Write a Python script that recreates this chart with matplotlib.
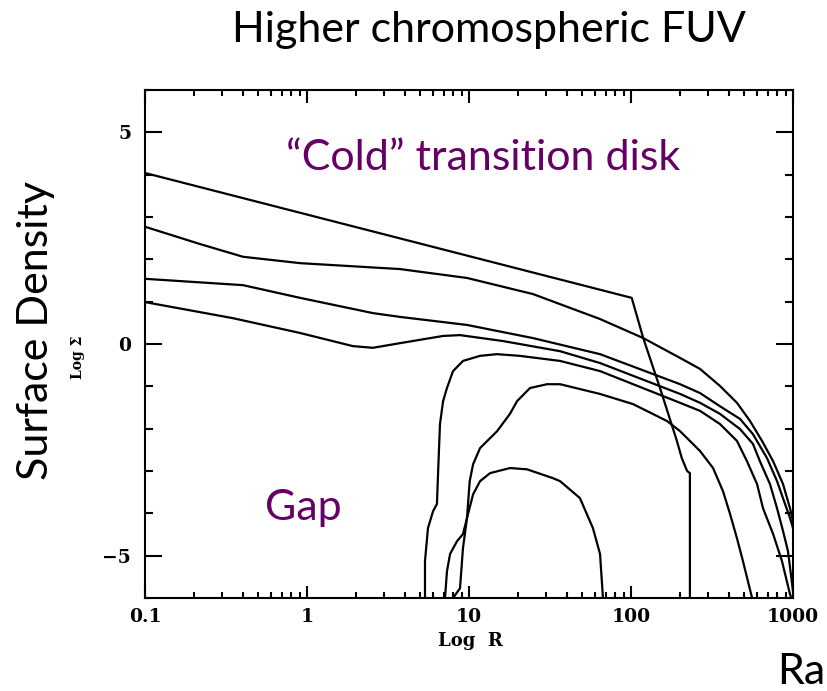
import numpy as np
import matplotlib
matplotlib.use("Agg")
import matplotlib.pyplot as plt
from matplotlib.ticker import FixedLocator, NullFormatter

# surface density profiles (R in AU, log Sigma)
r1 = [0.1, 101, 119, 151, 192, 206, 222, 231, 231]
s1 = [4.04, 1.09, 0.14, -1.04, -2.29, -2.70, -3.00, -3.05, -6.5]

r2 = [0.1, 0.219, 0.403, 0.906, 3.75, 9.72, 24.8, 64.4, 119, 201, 267, 354,
      451, 543, 644, 754, 868, 958, 1000]
s2 = [2.77, 2.36, 2.06, 1.91, 1.77, 1.56, 1.18, 0.59, 0.14, -0.33, -0.59,
      -0.99, -1.39, -1.82, -2.29, -2.77, -3.31, -3.88, -4.18]

r3 = [0.1, 0.403, 0.906, 2.55, 3.75, 9.72, 24.8, 64.4, 201, 267, 354, 471,
      566, 625, 692, 797, 893, 958, 1000]
s3 = [1.54, 1.39, 1.09, 0.73, 0.64, 0.45, 0.14, -0.24, -0.95, -1.16, -1.47,
      -1.77, -2.13, -2.41, -2.70, -3.24, -3.78, -4.11, -4.35]

r4 = [0.1, 0.349, 0.906, 1.92, 2.55, 3.75, 6.92, 8.80, 16.2, 36.5, 64.4, 201,
      267, 354, 471, 566, 625, 721, 797, 868, 931, 1000]
s4 = [0.99, 0.61, 0.26, -0.05, -0.09, 0.02, 0.19, 0.21, 0.07, -0.17, -0.45,
      -1.18, -1.39, -1.65, -2.01, -2.36, -2.77, -3.31, -3.88, -4.42, -4.89, -5.84]

r5 = [5.35, 5.35, 5.58, 6.00, 6.34, 6.44, 6.62, 6.92, 7.31, 7.97, 9.18, 11.7,
      14.9, 20.6, 36.5, 64.4, 201, 267, 354, 451, 520, 600, 653, 754, 855, 958, 986]
s5 = [-6.03, -5.13, -4.35, -3.95, -3.78, -3.07, -1.89, -1.35, -1.04, -0.64,
      -0.40, -0.28, -0.24, -0.28, -0.40, -0.64, -1.39, -1.58, -1.89, -2.29,
      -2.77, -3.31, -3.88, -4.49, -5.13, -5.91, -6.03]

r6 = [7.11, 7.31, 7.64, 8.43, 9.18, 9.72, 10.1, 10.6, 11.7, 14.9, 17.9, 19.8,
      23.8, 30.3, 36.5, 64.4, 103, 167, 201, 241, 267, 321, 370, 409, 451, 491, 559]
s6 = [-6.0, -5.37, -4.96, -4.66, -4.49, -4.11, -3.24, -2.84, -2.46, -2.06,
      -1.65, -1.35, -1.04, -0.95, -0.95, -1.18, -1.42, -1.82, -2.06, -2.36,
      -2.53, -2.93, -3.48, -4.02, -4.59, -5.13, -6.0]

r7 = [7.97, 8.80, 9.18, 9.72, 10.6, 11.7, 13.5, 17.9, 22.8, 33.0, 36.5, 48.4,
      58.2, 64.4, 67.2]
s7 = [-6.0, -5.77, -4.82, -4.11, -3.55, -3.24, -3.05, -2.93, -2.96, -3.17,
      -3.24, -3.64, -4.35, -4.96, -6.03]

xticks = [0.1, 1, 10, 100, 1000]
xticklabels = ["0.1", "1", "10", "100", "1000"]
yticks = [-5, 0, 5]
yticklabels = ["\u22125", "0", "5"]

W, H = 827, 691
fig = plt.figure(figsize=(W / 100, H / 100), dpi=100)
ax = fig.add_axes([145 / W, 1 - 598 / H, (793 - 145) / W, (598 - 90) / H])

for r, s in [(r1, s1), (r2, s2), (r3, s3), (r4, s4), (r5, s5), (r6, s6), (r7, s7)]:
    ax.plot(r, s, color="black", lw=1.6)

ax.set_xscale("log")
ax.set_xlim(0.1, 1000)
ax.set_ylim(-6, 6)

ax.xaxis.set_major_locator(FixedLocator(xticks))
ax.set_xticklabels(xticklabels)
minors = [m * 10.0 ** e for e in range(-1, 3) for m in range(2, 10)]
ax.xaxis.set_minor_locator(FixedLocator(minors))
ax.xaxis.set_minor_formatter(NullFormatter())
ax.set_yticks(yticks)
ax.set_yticklabels(yticklabels)
ax.yaxis.set_minor_locator(FixedLocator(np.arange(-6, 7, 1)))

ax.tick_params(which="both", direction="in", top=True, right=True, width=1.5)
ax.tick_params(axis="x", which="major", length=9)
ax.tick_params(axis="x", which="minor", length=4.5)
ax.tick_params(axis="y", which="major", length=12)
ax.tick_params(axis="y", which="minor", length=6)
ax.tick_params(axis="x", pad=7)
ax.tick_params(axis="y", pad=10)
for lab in ax.get_xticklabels() + ax.get_yticklabels():
    lab.set_fontfamily("DejaVu Serif")
    lab.set_fontweight("bold")
    lab.set_fontsize(13.5)
for sp in ax.spines.values():
    sp.set_linewidth(1.5)

serif = dict(family="DejaVu Serif", weight="bold")
fig.text(470 / W, 1 - 641 / H, "Log  R", ha="center", va="center", fontsize=13, **serif)
fig.text(78 / W, 1 - 357 / H, "Log \u03a3", ha="center", va="center", rotation=90,
         fontsize=10, **serif)

slide = "Lato"
purple = "#660066"
fig.text(489 / W, 1 - 30 / H, "Higher chromospheric FUV", ha="center", va="center",
         fontsize=31, family=slide)
fig.text(36 / W, 1 - 330 / H, "Surface Density", ha="center", va="center",
         rotation=90, fontsize=31, family=slide)
fig.text(777 / W, 1 - 672 / H, "Radius", ha="left", va="center", fontsize=31, family=slide)
fig.text(483 / W, 1 - 158 / H, "\u201cCold\u201d transition disk", ha="center",
         va="center", fontsize=31, color=purple, family=slide)
fig.text(303 / W, 1 - 508 / H, "Gap", ha="center", va="center", fontsize=31,
         color=purple, family=slide)

fig.savefig("out.png", dpi=100)
